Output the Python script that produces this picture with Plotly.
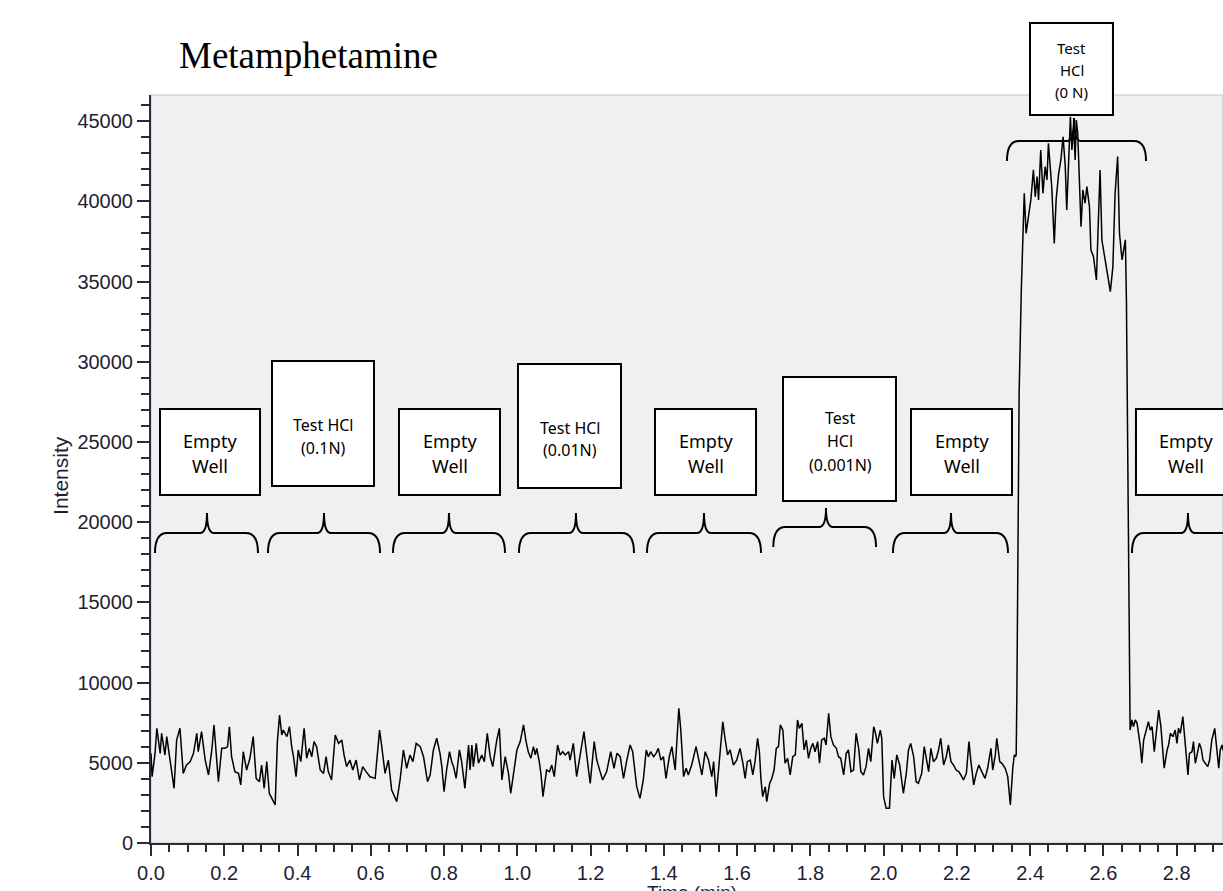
import plotly.graph_objects as go

# ---------------- data ----------------
time_min = [
    0.000, 0.003, 0.011, 0.016, 0.025, 0.029, 0.038, 0.043, 0.052, 0.063, 0.070, 0.079, 0.088, 0.097,
    0.107, 0.116, 0.125, 0.129, 0.138, 0.148, 0.157, 0.166, 0.172, 0.178, 0.184, 0.193, 0.202, 0.209,
    0.214, 0.220, 0.229, 0.239, 0.245, 0.252, 0.261, 0.270, 0.279, 0.287, 0.296, 0.302, 0.309, 0.316,
    0.323, 0.330, 0.339, 0.345, 0.351, 0.357, 0.361, 0.371, 0.378, 0.384, 0.389, 0.396, 0.402, 0.409,
    0.418, 0.425, 0.432, 0.439, 0.445, 0.452, 0.462, 0.471, 0.478, 0.484, 0.493, 0.503, 0.512, 0.521,
    0.527, 0.534, 0.543, 0.551, 0.560, 0.569, 0.578, 0.587, 0.598, 0.612, 0.624, 0.630, 0.639, 0.648,
    0.657, 0.671, 0.680, 0.689, 0.698, 0.707, 0.715, 0.724, 0.735, 0.744, 0.755, 0.762, 0.771, 0.780,
    0.789, 0.794, 0.800, 0.807, 0.815, 0.821, 0.826, 0.833, 0.842, 0.848, 0.857, 0.867, 0.871, 0.876,
    0.880, 0.888, 0.894, 0.903, 0.910, 0.918, 0.926, 0.933, 0.944, 0.951, 0.958, 0.967, 0.976, 0.982,
    0.989, 0.999, 1.008, 1.017, 1.024, 1.030, 1.037, 1.044, 1.049, 1.053, 1.060, 1.065, 1.070, 1.076,
    1.080, 1.088, 1.094, 1.101, 1.110, 1.117, 1.124, 1.131, 1.140, 1.144, 1.153, 1.162, 1.172, 1.182,
    1.190, 1.199, 1.210, 1.217, 1.226, 1.233, 1.244, 1.255, 1.264, 1.272, 1.281, 1.290, 1.299, 1.308,
    1.315, 1.326, 1.335, 1.344, 1.352, 1.358, 1.364, 1.372, 1.379, 1.385, 1.392, 1.399, 1.406, 1.415,
    1.422, 1.431, 1.441, 1.446, 1.454, 1.461, 1.467, 1.476, 1.488, 1.497, 1.504, 1.513, 1.522, 1.531,
    1.536, 1.543, 1.552, 1.561, 1.567, 1.574, 1.581, 1.590, 1.599,
    1.608, 1.616, 1.622, 1.628, 1.636, 1.643, 1.649, 1.656, 1.661, 1.665, 1.670, 1.677, 1.681, 1.689,
    1.695, 1.701, 1.707, 1.713, 1.718, 1.725, 1.731, 1.738, 1.745, 1.752, 1.759, 1.765, 1.770, 1.777,
    1.783, 1.789, 1.795, 1.801, 1.807, 1.813, 1.820, 1.825, 1.831, 1.838, 1.843, 1.850, 1.856, 1.863,
    1.871, 1.877, 1.883, 1.891, 1.898, 1.904, 1.911, 1.918, 1.925, 1.932, 1.938, 1.945, 1.952, 1.959,
    1.965, 1.973, 1.977, 1.983, 1.991, 1.995, 2.000, 2.007, 2.016, 2.023, 2.029, 2.036, 2.044, 2.054,
    2.062, 2.068, 2.074, 2.082, 2.089, 2.095, 2.104, 2.111, 2.118, 2.123, 2.129, 2.136, 2.144, 2.150,
    2.156, 2.164, 2.171, 2.177, 2.184, 2.191, 2.198, 2.205, 2.211, 2.218, 2.226, 2.233, 2.238, 2.246,
    2.253, 2.260, 2.268, 2.277, 2.284, 2.293, 2.298, 2.305, 2.309, 2.317, 2.323, 2.332, 2.339, 2.346,
    2.353, 2.357, 2.360,
    2.362, 2.364, 2.370, 2.376, 2.380,
    2.384, 2.389, 2.396, 2.402, 2.409, 2.414, 2.419, 2.423, 2.429, 2.435, 2.441, 2.446, 2.450, 2.455,
    2.459, 2.466, 2.471, 2.478, 2.484, 2.490, 2.496, 2.500, 2.505, 2.510, 2.514, 2.519, 2.523, 2.526,
    2.530, 2.535, 2.539, 2.544, 2.550, 2.555, 2.562, 2.566, 2.573, 2.581, 2.587, 2.591, 2.596, 2.605,
    2.611, 2.619, 2.626, 2.632, 2.639, 2.644, 2.651, 2.657, 2.660,
    2.663, 2.668, 2.672,
    2.673, 2.678, 2.682, 2.687, 2.692, 2.696, 2.701, 2.705, 2.710, 2.717, 2.723, 2.728, 2.733, 2.739,
    2.744, 2.751, 2.757, 2.763, 2.766, 2.774, 2.778, 2.783, 2.790, 2.796, 2.801, 2.805, 2.810, 2.817,
    2.822, 2.826, 2.831, 2.835, 2.842, 2.846, 2.851, 2.855, 2.862, 2.867, 2.872, 2.878, 2.885, 2.890,
    2.896, 2.904, 2.910, 2.915, 2.919, 2.924, 2.927, 2.935,
]

intensity = [
    5600, 4130, 5590, 7150, 5590, 6840, 5490, 6630, 5170, 3410, 6420, 7150, 4340, 4860,
    5070, 5590, 6840, 5690, 6940, 5170, 4240, 5800, 7360, 5490, 3820, 5900, 5900, 6010,
    7250, 5380, 4450, 4340, 3620, 5690, 4550, 5280, 6630, 4030, 3820, 4860, 3410, 5070,
    3100, 2780, 2370, 6320, 7980, 6730, 7040, 6630, 7250, 6010, 5380, 4130, 5800, 5070,
    7150, 5280, 5900, 5380, 6320, 6010, 4550, 4340, 5380, 4450, 3930, 6730, 6210, 6420,
    5490, 4760, 5170, 4550, 5170, 3930, 4760, 4450, 4130, 4030, 7040, 6010, 4340, 5170,
    3300, 2580, 3930, 5800, 4660, 5490, 5070, 6210, 6010, 5380, 3820, 4240, 5800, 6530,
    5590, 4760, 3200, 4550, 5690, 5070, 4760, 4030, 5800, 5070, 3410, 6110, 4550, 6110,
    4760, 6210, 4970, 5490, 5070, 6840, 5380, 4760, 6420, 7150, 3930, 5380, 4340, 3100,
    4340, 5800, 6320, 7360, 6320, 5690, 5280, 6010, 5490, 5900, 5070, 4240, 2890, 4030,
    4550, 4450, 4860, 4140, 6110, 5490, 5690, 5490, 5690, 5170, 6210, 4140, 5590, 6940,
    5380, 3720, 6320, 5170, 4450, 3930, 4450, 5690, 4660, 5590, 5380, 4030, 5170, 6110,
    5690, 3510, 2780, 3930, 5800, 5380, 5690, 5380, 5590, 5900, 5170, 5380, 4030, 5380,
    6010, 4550, 8400, 7150, 4140, 4660, 4240, 4860, 6010, 5070, 4240, 5690, 5170, 4140,
    5070, 2890, 5380, 7560, 6530, 5490, 5800, 4860, 5170,
    5900, 4970, 4030, 5070, 5170, 4240, 5070, 6530, 5690, 4030, 2890, 3510, 2580, 3720,
    4030, 4550, 5900, 6010, 7360, 7040, 4970, 5280, 4240, 5380, 5490, 7670, 7150, 7460,
    5800, 6420, 5280, 5900, 6210, 5690, 6320, 4970, 6420, 6530, 6110, 8080, 6630, 6110,
    5900, 5380, 5280, 4240, 5590, 5800, 4450, 4550, 6840, 5900, 4450, 4240, 4760, 5900,
    5070, 7250, 6940, 6210, 7040, 6530, 2890, 2160, 2160, 5170, 4030, 5490, 4860, 3100,
    4340, 5800, 6210, 5380, 3820, 3720, 4340, 6010, 5170, 4450, 5900, 5070, 5280, 5800,
    6530, 4860, 5380, 6110, 5070, 4860, 4550, 4450, 4240, 3930, 4340, 6320, 5170, 3620,
    4340, 4860, 4450, 4030, 4660, 5900, 4550, 5490, 6530, 5070, 4970, 4660, 4140, 2370,
    4760, 5490, 5380,
    5500, 9500, 28000, 34500, 38320,
    40500, 38010, 39250, 40090, 41960, 40290, 41540, 40090, 43200, 40500, 42160, 41330, 43620, 42160,
    40920, 37380, 40090, 41750, 42580, 44030, 42160, 39460, 42160, 45280, 43200, 44660, 42580, 45070,
    44240, 41120, 38420, 40710, 39880, 40920, 39670, 36970, 36550, 35100, 39460, 41960, 37590, 36350,
    35510, 34370, 35930, 40500, 42790, 38010, 36350, 37380, 37600,
    33800, 20000, 9500,
    7040, 7670, 7250, 7670, 7460, 6840, 6010, 4970, 6420, 7040, 7560, 7040, 7250, 5690,
    6840, 8290, 7250, 5380, 4660, 5800, 6110, 6840, 6630, 7040, 6210, 7150, 6840, 7880,
    6420, 5170, 4240, 5590, 5690, 6320, 4970, 5380, 6210, 5900, 5170, 4970, 4760, 5170,
    6420, 7150, 5800, 4660, 5800, 6110, 5800, 5500,
]

x_range = [0.0, 2.9266]
y_range = [0, 46630]
x_dtick = 0.2
y_dtick = 5000

title_text = "Metamphetamine"
x_title = "Time (min)"
y_title = "Intensity"

# label boxes: (lines, font size, box t0, t1, v0, v1, text centre t, line v's)
boxes = [
    (["Empty", "Well"], 18, 0.0246, 0.2976, 21694, 27056, 0.161, [25061, 23502]),
    (["Test HCl", "(0.1N)"], 16, 0.3303, 0.6088, 22255, 30048, 0.4696, [26058, 24624]),
    (["Empty", "Well"], 18, 0.6770, 0.9528, 21694, 27056, 0.8163, [25061, 23502]),
    (["Test HCl", "(0.01N)"], 16, 1.0019, 1.2831, 22131, 29861, 1.1439, [25871, 24500]),
    (["Empty", "Well"], 18, 1.3759, 1.6517, 21694, 27056, 1.5151, [25061, 23502]),
    (["Test", "HCl", "(0.001N)"], 16, 1.7254, 2.0338, 21320, 29050, 1.881, [26495, 25061, 23565]),
    (["Empty", "Well"], 18, 2.0748, 2.3505, 21694, 27056, 2.214, [25061, 23502]),
    (["Empty", "Well"], 18, 2.6890, 2.9620, 21694, 27056, 2.8255, [25061, 23502]),
    (["Test", "HCl", "(0 N)"], 15, 2.3997, 2.6262, 45384, 51119, 2.5143, [49560, 48189, 46817]),
]

# braces: (left t, right t, tip t, base v, tip v, end v)
braces = [
    (0.0109, 0.2921, 0.1529, 19325, 20572, 18079),
    (0.3194, 0.6252, 0.4723, 19325, 20572, 18079),
    (0.6607, 0.9664, 0.8135, 19325, 20572, 18079),
    (1.0046, 1.3186, 1.1602, 19325, 20572, 18079),
    (1.3541, 1.6653, 1.5097, 19325, 20572, 18079),
    (1.6990, 1.9793, 1.8428, 19699, 20884, 18453),
    (2.0256, 2.3396, 2.1840, 19325, 20572, 18079),
    (2.6781, 2.9839, 2.8310, 19325, 20572, 18079),
    (2.3369, 2.7164, 2.5198, 43763, 45197, 42516),
]


def xp(t):
    return (t - x_range[0]) / (x_range[1] - x_range[0])


def yp(v):
    return (v - y_range[0]) / (y_range[1] - y_range[0])


AX = "#2a2a3a"
TICKFONT = dict(family="Liberation Sans, Arial, sans-serif", size=20, color="#1e1e34")

fig = go.Figure()
fig.add_trace(go.Scatter(x=time_min, y=intensity, mode="lines",
                         line=dict(color="black", width=1.5), hoverinfo="skip"))

shapes = []
# plot-area frame
shapes.append(dict(type="rect", xref="paper", yref="paper", x0=0, x1=1, y0=0, y1=1,
                   line=dict(color="#c4c4c4", width=1), layer="below"))

for (tl, tr, tt, vb, vt, ve) in braces:
    r = 0.0328
    rt = 0.019
    xl, xr, xt = xp(tl), xp(tr), xp(tt)
    yb, ytp, ye = yp(vb), yp(vt), yp(ve)
    rx, rtx = xp(r), xp(rt)
    path = (f"M {xl},{ye} Q {xl},{yb} {xl + rx},{yb} L {xt - rtx},{yb} "
            f"Q {xt},{yb} {xt},{ytp} Q {xt},{yb} {xt + rtx},{yb} "
            f"L {xr - rx},{yb} Q {xr},{yb} {xr},{ye}")
    shapes.append(dict(type="path", xref="paper", yref="paper", path=path,
                       line=dict(color="black", width=2), layer="above"))

annotations = []
for (lines, fs, t0, t1, v0, v1, tc, lv) in boxes:
    shapes.append(dict(type="rect", xref="paper", yref="paper",
                       x0=xp(t0), x1=xp(t1), y0=yp(v0), y1=yp(v1),
                       fillcolor="white", line=dict(color="black", width=2), layer="above"))
    for txt, v in zip(lines, lv):
        annotations.append(dict(text=txt, xref="paper", yref="paper", x=xp(tc), y=yp(v),
                                xanchor="center", yanchor="middle", showarrow=False,
                                font=dict(family="Noto Sans, Open Sans, sans-serif", size=fs,
                                          color="black")))

annotations.append(dict(text=title_text, xref="paper", yref="paper", x=0.0243, y=1.0522,
                        xanchor="left", yanchor="middle", showarrow=False,
                        font=dict(family="Liberation Serif, Times New Roman, serif", size=37,
                                  color="black")))
annotations.append(dict(text=y_title, xref="paper", yref="paper", x=-0.084, y=0.492,
                        xanchor="center", yanchor="middle", textangle=-90, showarrow=False,
                        font=dict(family="Liberation Sans, Arial, sans-serif", size=21,
                                  color="#1e1e34")))
annotations.append(dict(text=x_title, xref="paper", yref="paper", x=0.505, y=-0.0668,
                        xanchor="center", yanchor="middle", showarrow=False,
                        font=dict(family="Liberation Sans, Arial, sans-serif", size=19,
                                  color="#1e1e34")))

fig.update_layout(
    width=1223, height=891,
    margin=dict(l=151, r=0, t=95, b=48),
    paper_bgcolor="white", plot_bgcolor="#f0f0f0",
    showlegend=False,
    shapes=shapes, annotations=annotations,
    xaxis=dict(range=x_range, dtick=x_dtick, tick0=0, tickformat=".1f",
               ticks="outside", ticklen=11, tickwidth=2, tickcolor=AX,
               showline=True, linecolor=AX, linewidth=2,
               showgrid=False, zeroline=False, tickfont=TICKFONT,
               minor=dict(ticks="outside", ticklen=7, tickwidth=2, tickcolor=AX,
                          dtick=0.05, tick0=0, showgrid=False)),
    yaxis=dict(range=y_range, dtick=y_dtick, tick0=0, tickformat="d",
               ticks="outside", ticklen=12, tickwidth=2, tickcolor=AX,
               showline=True, linecolor=AX, linewidth=2,
               showgrid=False, zeroline=False, tickfont=TICKFONT,
               minor=dict(ticks="outside", ticklen=8, tickwidth=2, tickcolor=AX,
                          dtick=1000, tick0=0, showgrid=False)),
)

fig.write_html("out.html",
               config={"displayModeBar": False},
               post_script="document.body.style.margin='0';document.body.style.overflow='hidden';")
